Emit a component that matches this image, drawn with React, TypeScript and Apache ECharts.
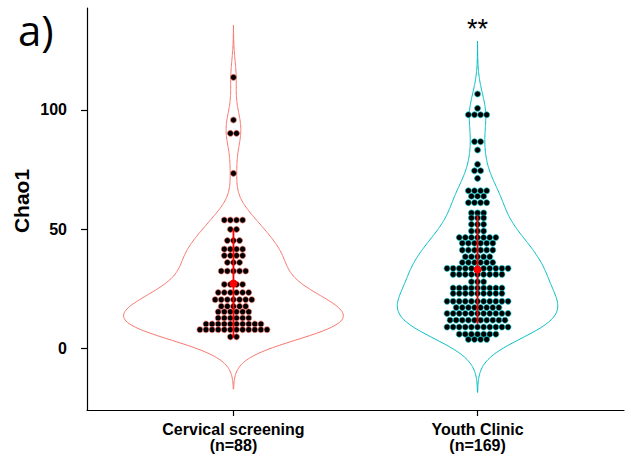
import React, { useEffect, useRef } from "react";
import * as echarts from "echarts";

// Groups on the x axis (positions 1 and 2)
const groups = ["Cervical screening", "Youth Clinic"];
const groupSizes = [88, 169];
const groupColors = ["#F8766D", "#00BFC4"];

// Chao1 dot-plot rows: row value and number of samples stacked in that row
const cervicalRowValues = [113.7, 95.8, 90.2, 73.4, 53.8, 49.9, 45.2, 41.6, 38.9, 36.0, 32.4, 26.8, 23.4, 20.4, 17.6, 15.3, 12.7, 10.2, 7.8, 4.8];
const cervicalRowCounts = [1, 1, 2, 1, 4, 2, 3, 4, 4, 3, 5, 4, 6, 7, 5, 6, 6, 10, 12, 2];

const youthRowValues = [106.7, 100.7, 98.0, 86.7, 83.2, 77.2, 74.5, 71.3, 66.1, 63.8, 61.1, 56.8, 54.7, 52.0, 49.2, 46.5, 44.1, 41.2, 38.4, 36.0, 33.5, 31.0, 27.9, 25.3, 23.0, 19.7, 17.1, 14.6, 11.8, 8.9, 5.9, 3.7];
const youthRowCounts = [1, 1, 4, 2, 1, 1, 2, 1, 4, 3, 4, 3, 3, 3, 3, 7, 6, 6, 5, 6, 11, 9, 3, 9, 9, 11, 8, 11, 10, 11, 7, 4];

// Mean and standard deviation per group
const groupMeans = [27.2, 33.0];
const groupSds = [22.8, 22.7];

// Kernel bandwidths of the violins
const bandwidths = [7.3, 7.4];

// Significance mark above the second group
const signifLabel = "**";
const signifY = 134;

const yTicks = [0, 50, 100];
const xTicks = [1, 2];

const Y_MIN = -25.9;
const Y_MAX = 142.8;
const X_MIN = 0.4;
const X_MAX = 2.6;
const DOT_STEP = 0.025; // horizontal spacing of stacked dots, in x units
const VIOLIN_HALF = 0.45;

function expandRows(values: number[], counts: number[]): number[] {
  const out: number[] = [];
  values.forEach((v, i) => {
    for (let k = 0; k < counts[i]; k++) out.push(v);
  });
  return out;
}

function kde(samples: number[], bw: number, steps = 300): [number, number][] {
  const lo = Math.min(...samples) - 3 * bw;
  const hi = Math.max(...samples) + 3 * bw;
  const norm = samples.length * bw * Math.sqrt(2 * Math.PI);
  const pts: [number, number][] = [];
  for (let i = 0; i <= steps; i++) {
    const y = lo + ((hi - lo) * i) / steps;
    let s = 0;
    for (const x of samples) {
      const z = (y - x) / bw;
      s += Math.exp(-0.5 * z * z);
    }
    pts.push([y, s / norm]);
  }
  return pts;
}

function buildOption() {
  const rowValues = [cervicalRowValues, youthRowValues];
  const rowCounts = [cervicalRowCounts, youthRowCounts];
  const samples = rowValues.map((v, g) => expandRows(v, rowCounts[g]));
  const densities = samples.map((s, g) => kde(s, bandwidths[g]));
  const maxDens = Math.max(...densities.map((d) => Math.max(...d.map((p) => p[1]))));

  // Violin outlines in data coordinates
  const outlines = densities.map((d, g) => {
    const c = g + 1;
    const right = d.map(([y, f]) => [c + (VIOLIN_HALF * f) / maxDens, y]);
    const left = d
      .slice()
      .reverse()
      .map(([y, f]) => [c - (VIOLIN_HALF * f) / maxDens, y]);
    return right.concat(left);
  });

  const series: any[] = [];

  series.push({
    type: "custom",
    z: 1,
    clip: false,
    data: [
      [1, 0],
      [2, 0],
    ],
    renderItem: (params: any, api: any) => {
      const g = params.dataIndex;
      const pts = outlines[g].map((p) => api.coord(p));
      return {
        type: "polygon",
        shape: { points: pts },
        style: { fill: "none", stroke: groupColors[g], lineWidth: 1 },
      };
    },
  });

  // Stacked dots, centred on each group
  rowValues.forEach((vals, g) => {
    const c = g + 1;
    const data: number[][] = [];
    vals.forEach((v, i) => {
      const n = rowCounts[g][i];
      for (let k = 0; k < n; k++) data.push([c + (k - (n - 1) / 2) * DOT_STEP, v]);
    });
    series.push({
      type: "scatter",
      z: 2,
      symbol: "circle",
      symbolSize: 6,
      itemStyle: { color: "#000", borderColor: groupColors[g], borderWidth: 0.7, opacity: 1 },
      data,
    });
  });

  // Mean ± SD bars and mean points
  groupMeans.forEach((m, g) => {
    const c = g + 1;
    series.push({
      type: "line",
      z: 3,
      symbol: "none",
      lineStyle: { color: "#FF0000", width: 1.8 },
      data: [
        [c, m - groupSds[g]],
        [c, m + groupSds[g]],
      ],
    });
  });
  series.push({
    type: "scatter",
    z: 4,
    symbolSize: 8,
    itemStyle: { color: "#FF0000", opacity: 1 },
    data: groupMeans.map((m, g) => [g + 1, m]),
  });

  series.push({
    type: "scatter",
    z: 5,
    symbolSize: 0.1,
    itemStyle: { color: "transparent", opacity: 1 },
    label: {
      show: true,
      position: "inside",
      formatter: signifLabel,
      color: "#000",
      opacity: 1,
      fontSize: 27,
      fontFamily: "Liberation Sans",
    },
    data: [[2, signifY]],
  });

  return {
    animation: false,
    backgroundColor: "#fff",
    grid: { left: 87, right: 7, top: 8, bottom: 55 },
    xAxis: {
      type: "value",
      min: X_MIN,
      max: X_MAX,
      splitLine: { show: false },
      axisLine: { show: true, onZero: false, lineStyle: { color: "#000", width: 1.2 } },
      axisTick: { show: true, customValues: xTicks, length: 6, lineStyle: { color: "#000", width: 1.2 } },
      axisLabel: {
        customValues: xTicks,
        formatter: (v: number) => `${groups[Math.round(v) - 1]}\n(n=${groupSizes[Math.round(v) - 1]})`,
        color: "#000",
        fontFamily: "Liberation Sans",
        fontWeight: "bold",
        fontSize: 16,
        lineHeight: 16,
        margin: 11,
      },
    },
    yAxis: {
      type: "value",
      min: Y_MIN,
      max: Y_MAX,
      splitLine: { show: false },
      axisLine: { show: true, onZero: false, lineStyle: { color: "#000", width: 1.2 } },
      axisTick: { show: true, customValues: yTicks, length: 6, lineStyle: { color: "#000", width: 1.2 } },
      axisLabel: {
        customValues: yTicks,
        color: "#000",
        fontFamily: "Liberation Sans",
        fontWeight: "bold",
        fontSize: 16,
        margin: 20,
      },
    },
    graphic: [
      {
        type: "text",
        left: 18,
        top: 8,
        style: {
          text: "a)",
          fontFamily: "Open Sans",
          fontSize: 42,
          fill: "#000",
        },
      },
      {
        type: "text",
        x: 21,
        y: 201,
        rotation: Math.PI / 2,
        style: {
          text: "Chao1",
          fontFamily: "Liberation Sans",
          fontWeight: "bold",
          fontSize: 21,
          fill: "#000",
          align: "center",
          verticalAlign: "middle",
        },
      },
    ],
    series,
  };
}

export default function App() {
  const ref = useRef<HTMLDivElement>(null);
  useEffect(() => {
    const chart = echarts.init(ref.current!, null, { renderer: "svg" });
    chart.setOption(buildOption());
    return () => chart.dispose();
  }, []);
  return (
    <div
      ref={ref}
      style={{ position: "fixed", left: 0, top: 0, width: 631, height: 465, background: "#fff" }}
    />
  );
}
